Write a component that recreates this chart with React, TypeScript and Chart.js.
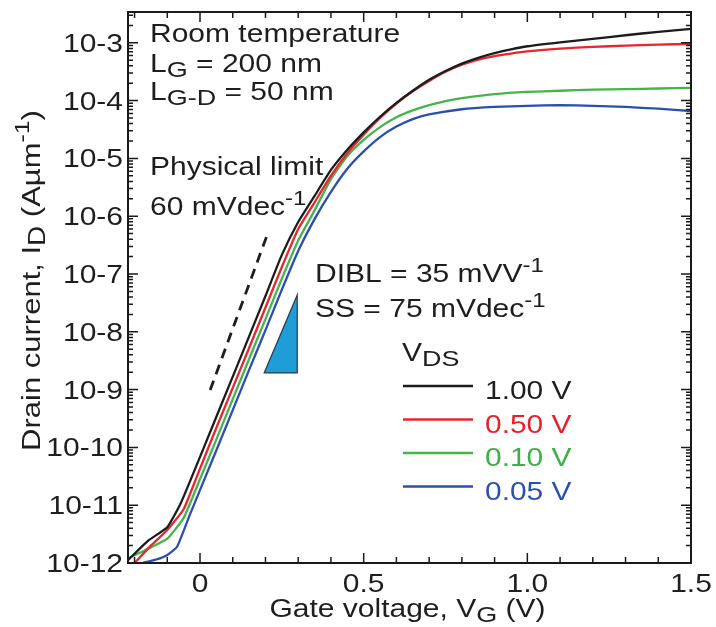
import React, { useEffect, useRef } from "react";
import { Chart, registerables } from "chart.js";

Chart.register(...registerables);

// ---------- data ----------
const vdsLabels = ["1.00 V", "0.50 V", "0.10 V", "0.05 V"];
const seriesColors = ["#1c1c1c", "#e8262e", "#45b44a", "#2b4fae"];
const legendTextColors = ["#1e1e1e", "#e8202a", "#3fae45", "#2a50b0"];

const vgBlack = [-0.22, -0.16, -0.1, -0.06, -0.025, 0.05, 0.15, 0.2, 0.25, 0.3, 0.35, 0.4, 0.45, 0.5, 0.55, 0.6, 0.65, 0.7, 0.75, 0.8, 0.85, 0.9, 0.95, 1.0, 1.1, 1.2, 1.3, 1.4, 1.5];
const idBlack = [1.12e-12, 2.4e-12, 4.17e-12, 1.05e-11, 3.09e-11, 3.39e-10, 8.32e-9, 4.17e-8, 2.14e-7, 7.94e-7, 2.24e-6, 6.31e-6, 1.41e-5, 2.82e-5, 5.25e-5, 9.12e-5, 1.48e-4, 2.29e-4, 3.24e-4, 4.37e-4, 5.5e-4, 6.61e-4, 7.7e-4, 8.71e-4, 1.02e-3, 1.17e-3, 1.35e-3, 1.55e-3, 1.74e-3];

const vgRed = [-0.2, -0.15, -0.1, -0.05, -0.01, 0.05, 0.15, 0.2, 0.25, 0.3, 0.35, 0.4, 0.45, 0.5, 0.55, 0.6, 0.65, 0.7, 0.75, 0.8, 0.85, 0.9, 0.95, 1.0, 1.1, 1.2, 1.3, 1.4, 1.5];
const idRed = [1.0e-12, 2.0e-12, 3.72e-12, 8.5e-12, 3.09e-11, 2.19e-10, 5.25e-9, 2.63e-8, 1.32e-7, 6.0e-7, 1.74e-6, 5.01e-6, 1.23e-5, 2.57e-5, 5.01e-5, 8.91e-5, 1.45e-4, 2.19e-4, 3.16e-4, 4.17e-4, 5.13e-4, 5.89e-4, 6.5e-4, 7.08e-4, 7.94e-4, 8.51e-4, 8.91e-4, 9.33e-4, 9.55e-4];

const vgGreen = [-0.22, -0.16, -0.1, -0.05, 0.0, 0.05, 0.15, 0.2, 0.25, 0.3, 0.35, 0.4, 0.45, 0.5, 0.55, 0.6, 0.65, 0.7, 0.75, 0.8, 0.9, 1.0, 1.1, 1.2, 1.3, 1.4, 1.5];
const idGreen = [1.2e-12, 1.74e-12, 2.63e-12, 6.03e-12, 2.82e-11, 1.38e-10, 3.39e-9, 1.66e-8, 8.32e-8, 3.8e-7, 1.26e-6, 4.37e-6, 1.1e-5, 2.09e-5, 3.47e-5, 5.13e-5, 6.76e-5, 8.32e-5, 9.77e-5, 1.1e-4, 1.29e-4, 1.41e-4, 1.48e-4, 1.55e-4, 1.58e-4, 1.62e-4, 1.66e-4];

const vgBlue = [-0.175, -0.13, -0.1, -0.07, -0.03, 0.05, 0.15, 0.2, 0.25, 0.3, 0.35, 0.4, 0.45, 0.5, 0.55, 0.6, 0.65, 0.7, 0.8, 0.9, 1.0, 1.1, 1.2, 1.3, 1.4, 1.5];
const idBlue = [1.0e-12, 1.17e-12, 1.38e-12, 1.91e-12, 7.08e-12, 8.91e-11, 2.19e-9, 1.07e-8, 5.37e-8, 2.51e-7, 8.91e-7, 2.63e-6, 6.61e-6, 1.32e-5, 2.34e-5, 3.55e-5, 4.79e-5, 5.75e-5, 7.08e-5, 7.76e-5, 8.13e-5, 8.32e-5, 8.13e-5, 7.76e-5, 7.24e-5, 6.61e-5];

// 60 mV/dec physical-limit guide (dashed)
const limitVg = [0.031, 0.205];
const limitId = [9.8e-10, 4.7e-7];

// 75 mV/dec slope triangle
const triVg = [0.196, 0.297, 0.297];
const triId = [1.94e-9, 1.94e-9, 4.33e-8];

// axes
const xMin = -0.22;
const xMax = 1.5;
const yMin = 1e-12;
const yMax = 3.41e-3;
const xMajorTicks = [0, 0.5, 1.0, 1.5];
const xTickLabels = ["0", "0.5", "1.0", "1.5"];
const xMinorTicks = [-0.2, -0.1, 0.1, 0.2, 0.3, 0.4, 0.6, 0.7, 0.8, 0.9, 1.1, 1.2, 1.3, 1.4];
const yMajorTicks = [1e-12, 1e-11, 1e-10, 1e-9, 1e-8, 1e-7, 1e-6, 1e-5, 1e-4, 1e-3];
const yTickLabels = ["10-12", "10-11", "10-10", "10-9", "10-8", "10-7", "10-6", "10-5", "10-4", "10-3"];

// text
type Seg = { t: string; sub?: boolean; sup?: boolean };
const xTitle: Seg[] = [{ t: "Gate voltage, V" }, { t: "G", sub: true }, { t: " (V)" }];
const yTitle: Seg[] = [{ t: "Drain current, I" }, { t: "D", sub: true }, { t: " (A\u00b5m" }, { t: "-1", sup: true }, { t: ")" }];
const noteRoom: Seg[] = [{ t: "Room temperature" }];
const noteLg: Seg[] = [{ t: "L" }, { t: "G", sub: true }, { t: " = 200 nm" }];
const noteLgd: Seg[] = [{ t: "L" }, { t: "G-D", sub: true }, { t: " = 50 nm" }];
const notePhys: Seg[] = [{ t: "Physical limit" }];
const note60: Seg[] = [{ t: "60 mVdec" }, { t: "-1", sup: true }];
const noteDibl: Seg[] = [{ t: "DIBL = 35 mVV" }, { t: "-1", sup: true }];
const noteSs: Seg[] = [{ t: "SS = 75 mVdec" }, { t: "-1", sup: true }];
const legendTitle: Seg[] = [{ t: "V" }, { t: "DS", sub: true }];

const FONT = '"Liberation Sans", Arial, Helvetica, sans-serif';
const TEXT = "#1e1e1e";

function segFont(size: number, s: Seg) {
  const fs = s.sub ? size * 0.9 : s.sup ? size * 0.8 : size;
  return `${fs}px ${FONT}`;
}

function drawRich(
  ctx: CanvasRenderingContext2D,
  segs: Seg[],
  x: number,
  y: number,
  size: number,
  color: string,
  align: "left" | "center" | "right" = "left",
  sx = 1.2,
  sy = 1,
  rot = 0
) {
  ctx.save();
  ctx.translate(x, y);
  if (rot) ctx.rotate(rot);
  ctx.scale(sx, sy);
  let w = 0;
  for (const s of segs) {
    ctx.font = segFont(size, s);
    w += ctx.measureText(s.t).width;
  }
  let cx = align === "center" ? -w / 2 : align === "right" ? -w : 0;
  ctx.fillStyle = color;
  ctx.textAlign = "left";
  ctx.textBaseline = "alphabetic";
  for (const s of segs) {
    ctx.font = segFont(size, s);
    const dy = s.sub ? size * 0.2 : s.sup ? -size * 0.42 : 0;
    ctx.fillText(s.t, cx, dy);
    cx += ctx.measureText(s.t).width;
  }
  ctx.restore();
}

const overlayPlugin = {
  id: "overlay",
  afterDatasetsDraw(chart: any) {
    const { ctx, chartArea: a, scales } = chart;
    const xs = scales.x;
    const ys = scales.y;

    // slope triangle
    ctx.save();
    ctx.beginPath();
    triVg.forEach((v, i) => {
      const px = xs.getPixelForValue(v);
      const py = ys.getPixelForValue(triId[i]);
      if (i === 0) ctx.moveTo(px, py);
      else ctx.lineTo(px, py);
    });
    ctx.closePath();
    ctx.fillStyle = "#1f9dd9";
    ctx.fill();
    ctx.strokeStyle = "#2b3a44";
    ctx.lineWidth = 1.2;
    ctx.stroke();
    ctx.restore();

    // frame
    ctx.save();
    ctx.strokeStyle = "#1a1a1a";
    ctx.lineWidth = 2;
    ctx.strokeRect(a.left, a.top, a.right - a.left, a.bottom - a.top);

    // ticks (inward)
    ctx.lineWidth = 1.5;
    ctx.beginPath();
    const xt = (v: number, len: number) => {
      const px = xs.getPixelForValue(v);
      ctx.moveTo(px, a.bottom);
      ctx.lineTo(px, a.bottom - len);
      ctx.moveTo(px, a.top);
      ctx.lineTo(px, a.top + len);
    };
    xMajorTicks.forEach((v) => xt(v, 10));
    xMinorTicks.forEach((v) => xt(v, 6));
    const yt = (v: number, len: number) => {
      const py = ys.getPixelForValue(v);
      ctx.moveTo(a.left, py);
      ctx.lineTo(a.left + len, py);
      ctx.moveTo(a.right, py);
      ctx.lineTo(a.right - len, py);
    };
    yMajorTicks.forEach((v) => yt(v, 10));
    yMajorTicks.forEach((d) => {
      for (let m = 2; m <= 9; m++) {
        const v = d * m;
        if (v <= yMax) yt(v, 5);
      }
    });
    ctx.stroke();
    ctx.restore();
  },
  afterDraw(chart: any) {
    const { ctx, chartArea: a, scales } = chart;
    const xs = scales.x;
    const ys = scales.y;

    // tick labels
    yMajorTicks.forEach((v, i) => {
      drawRich(ctx, [{ t: yTickLabels[i] }], a.left - 5, ys.getPixelForValue(v) + 9, 25, TEXT, "right");
    });
    xMajorTicks.forEach((v, i) => {
      drawRich(ctx, [{ t: xTickLabels[i] }], xs.getPixelForValue(v), a.bottom + 29, 25, TEXT, "center");
    });

    // axis titles
    drawRich(ctx, xTitle, (a.left + a.right) / 2 - 2, a.bottom + 54, 25, TEXT, "center");
    drawRich(ctx, yTitle, 40, (a.top + a.bottom) / 2 - 7, 31, TEXT, "center", 1, 0.85, -Math.PI / 2);

    // annotations
    drawRich(ctx, noteRoom, 150, 42, 25, TEXT);
    drawRich(ctx, noteLg, 150, 72, 25, TEXT);
    drawRich(ctx, noteLgd, 150, 100, 25, TEXT);
    drawRich(ctx, notePhys, 150, 175, 25, TEXT);
    drawRich(ctx, note60, 150, 215, 25, TEXT);
    drawRich(ctx, noteDibl, 315, 282, 25, TEXT);
    drawRich(ctx, noteSs, 315, 317, 25, TEXT);

    // legend
    drawRich(ctx, legendTitle, 402, 361, 25, TEXT);
    vdsLabels.forEach((lab, i) => {
      const ly = 386 + i * 33.5;
      ctx.save();
      ctx.strokeStyle = seriesColors[i];
      ctx.lineWidth = 2.6;
      ctx.beginPath();
      ctx.moveTo(403, ly);
      ctx.lineTo(473, ly);
      ctx.stroke();
      ctx.restore();
      drawRich(ctx, [{ t: lab }], 485, ly + 13, 26, legendTextColors[i], "left", 1.15);
    });
  },
};

function series(vg: number[], id: number[], color: string, label: string) {
  return {
    label,
    data: vg.map((v, i) => ({ x: v, y: id[i] })),
    borderColor: color,
    backgroundColor: color,
    borderWidth: 2.3,
    pointRadius: 0,
    tension: 0.15,
    fill: false,
  };
}

export default function App() {
  const ref = useRef<HTMLCanvasElement>(null);
  useEffect(() => {
    document.body.style.margin = "0";
    const chart = new Chart(ref.current as HTMLCanvasElement, {
      type: "line",
      data: {
        datasets: [
          {
            label: "Physical limit 60 mV/dec",
            data: limitVg.map((v, i) => ({ x: v, y: limitId[i] })),
            borderColor: "#1e1e1e",
            borderWidth: 2.8,
            borderDash: [10, 7],
            pointRadius: 0,
            fill: false,
          },
          series(vgBlack, idBlack, seriesColors[0], vdsLabels[0]),
          series(vgRed, idRed, seriesColors[1], vdsLabels[1]),
          series(vgGreen, idGreen, seriesColors[2], vdsLabels[2]),
          series(vgBlue, idBlue, seriesColors[3], vdsLabels[3]),
        ] as any,
      },
      options: {
        animation: false,
        responsive: true,
        maintainAspectRatio: false,
        layout: { padding: { left: 128, top: 12, right: 25, bottom: 64 } },
        plugins: { legend: { display: false }, tooltip: { enabled: false } },
        scales: {
          x: { type: "linear", min: xMin, max: xMax, display: false },
          y: { type: "logarithmic", min: yMin, max: yMax, display: false },
        },
      },
      plugins: [overlayPlugin],
    });
    return () => chart.destroy();
  }, []);
  return (
    <div style={{ width: 716, height: 627, position: "relative", background: "#fff" }}>
      <canvas ref={ref} />
    </div>
  );
}
